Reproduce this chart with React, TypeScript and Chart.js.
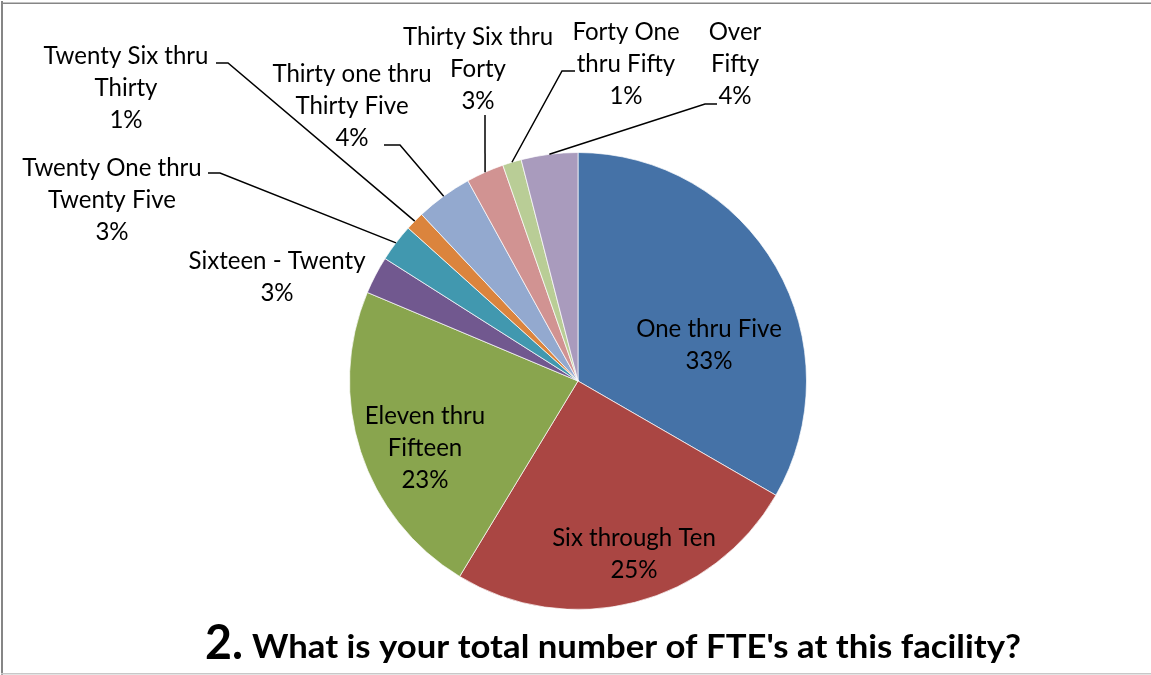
import { useEffect, useRef } from 'react';
import { Chart, registerables } from 'chart.js';

Chart.register(...registerables);

const categories = [
  'One thru Five',
  'Six through Ten',
  'Eleven thru Fifteen',
  'Sixteen - Twenty',
  'Twenty One thru Twenty Five',
  'Twenty Six thru Thirty',
  'Thirty one thru Thirty Five',
  'Thirty Six thru Forty',
  'Forty One thru Fifty',
  'Over Fifty',
];
const counts = [25, 19, 17, 2, 2, 1, 3, 2, 1, 3];
const labelLines = [
  ['One thru Five'],
  ['Six through Ten'],
  ['Eleven thru', 'Fifteen'],
  ['Sixteen - Twenty'],
  ['Twenty One thru', 'Twenty Five'],
  ['Twenty Six thru', 'Thirty'],
  ['Thirty one thru', 'Thirty Five'],
  ['Thirty Six thru', 'Forty'],
  ['Forty One', 'thru Fifty'],
  ['Over', 'Fifty'],
];
const colors = [
  '#4572A7', '#AA4643', '#89A54E', '#71588F', '#4198AF',
  '#DB843D', '#93A9CF', '#D19392', '#B9CD96', '#A99BBD',
];
const titleNumber = '2.';
const titleText = "What is your total number of FTE's at this facility?";

// label placement (layout only)
const labelLayout: { x: number; y: number; leader?: number[][] }[] = [
  { x: 709, y: 337 },
  { x: 634, y: 546 },
  { x: 425, y: 424 },
  { x: 277, y: 269 },
  { x: 112, y: 176, leader: [[208, 173], [220, 173]] },
  { x: 126, y: 64, leader: [[216, 63], [228, 63]] },
  { x: 352, y: 82, leader: [[384, 145], [400, 145]] },
  { x: 478, y: 45, leader: [[485, 115]] },
  { x: 626, y: 40, leader: [[575, 71], [562, 71]] },
  { x: 735, y: 40, leader: [[717, 104], [705, 104]] },
];

const FONT = 'Lato, "Open Sans", "DejaVu Sans", sans-serif';

const overlayPlugin = {
  id: 'overlay',
  afterDatasetsDraw(chart: any) {
    const ctx = chart.ctx as CanvasRenderingContext2D;
    const meta = chart.getDatasetMeta(0);
    const data = chart.data.datasets[0].data as number[];
    const total = data.reduce((a, b) => a + b, 0);
    ctx.save();
    // leader lines
    ctx.strokeStyle = '#000';
    ctx.lineWidth = 1.5;
    meta.data.forEach((arc: any, i: number) => {
      const lay = labelLayout[i];
      if (!lay.leader) return;
      const p = arc.getProps(['x', 'y', 'startAngle', 'endAngle', 'outerRadius'], true);
      const mid = (p.startAngle + p.endAngle) / 2;
      const ex = p.x + Math.cos(mid) * p.outerRadius;
      const ey = p.y + Math.sin(mid) * p.outerRadius;
      ctx.beginPath();
      ctx.moveTo(lay.leader[0][0], lay.leader[0][1]);
      for (let k = 1; k < lay.leader.length; k++) ctx.lineTo(lay.leader[k][0], lay.leader[k][1]);
      ctx.lineTo(ex, ey);
      ctx.stroke();
    });
    // labels
    ctx.font = `24px ${FONT}`;
    const ref = ctx.measureText('Twenty Six thru').width;
    const size = Math.max(16, Math.min(30, (24 * 165) / ref));
    ctx.font = `${size}px ${FONT}`;
    ctx.fillStyle = '#000';
    ctx.textAlign = 'center';
    ctx.textBaseline = 'alphabetic';
    data.forEach((v, i) => {
      const lay = labelLayout[i];
      const lines = [...labelLines[i], `${Math.round((v / total) * 100)}%`];
      lines.forEach((t, k) => ctx.fillText(t, lay.x, lay.y + k * 32.2));
    });
    ctx.restore();
  },
  afterDraw(chart: any) {
    const ctx = chart.ctx as CanvasRenderingContext2D;
    ctx.save();
    // title
    ctx.fillStyle = '#000';
    ctx.textBaseline = 'alphabetic';
    ctx.textAlign = 'left';
    const drawFit = (text: string, font: string, x0: number, x1: number, y: number) => {
      ctx.font = font;
      const w = ctx.measureText(text).width;
      ctx.save();
      ctx.translate(x0, y);
      ctx.scale((x1 - x0) / w, 1);
      ctx.fillText(text, 0, 0);
      ctx.restore();
    };
    drawFit(titleNumber, `bold 47px ${FONT}`, 205, 243, 659);
    drawFit(titleText, `bold 33px ${FONT}`, 252, 1021, 658);
    // frame
    ctx.fillStyle = '#868686';
    ctx.fillRect(1, 1, 2, 674);
    ctx.fillRect(1, 2.5, 1150, 1.5);
    ctx.fillStyle = '#c8c8c8';
    ctx.fillRect(1, 673, 1150, 1.5);
    ctx.restore();
  },
};

export default function App() {
  const ref = useRef<HTMLCanvasElement | null>(null);
  useEffect(() => {
    if (!ref.current) return;
    const chart = new Chart(ref.current, {
      type: 'pie',
      data: {
        labels: categories,
        datasets: [
          {
            data: counts,
            backgroundColor: colors,
            borderColor: 'rgba(255,255,255,0.7)',
            borderWidth: 1,
          },
        ],
      },
      options: {
        responsive: false,
        animation: false,
        layout: { padding: { left: 349, right: 344, top: 152, bottom: 65 } },
        plugins: {
          legend: { display: false },
          tooltip: { enabled: false },
          title: { display: false },
        },
      },
      plugins: [overlayPlugin],
    });
    return () => chart.destroy();
  }, []);
  return (
    <div style={{ position: 'fixed', left: 0, top: 0, width: 1151, height: 675, background: '#fff' }}>
      <canvas ref={ref} width={1151} height={675} style={{ display: 'block' }} />
    </div>
  );
}
